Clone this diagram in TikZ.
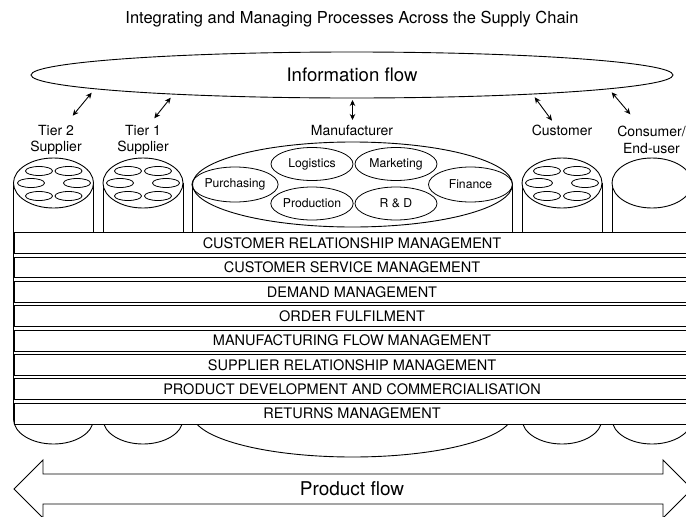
\documentclass[tikz,border=0pt]{standalone}
\usepackage{fontspec}
\setmainfont{TeX Gyre Heros}
\usetikzlibrary{shapes.geometric,arrows.meta}

\tikzset{
    face/.style={ellipse, draw, line width=0.9pt, fill=white, inner sep=0pt},
    cell/.style={ellipse, draw, line width=0.8pt, minimum width=27pt, minimum height=9pt, inner sep=0pt},
    dept/.style={ellipse, draw, line width=0.8pt, minimum width=82pt, minimum height=33pt, inner sep=0pt, font=\fontsize{12.2}{14}\selectfont},
    process/.style={draw, line width=0.9pt, fill=white, minimum width=676pt, minimum height=20.8pt, inner sep=0pt, font=\fontsize{14.5}{16}\selectfont},
    partner/.style={align=center, font=\fontsize{14}{16.5}\selectfont},
    infolink/.style={{Stealth[length=6pt,width=5.5pt]}-{Stealth[length=6pt,width=5.5pt]}, line width=0.9pt}
}

\begin{document}
\begin{tikzpicture}[x=1pt, y=-1pt]
        \useasboundingbox (0,0) rectangle (686,517);
        \clip (0,0) rectangle (686,517);

        \node[font=\fontsize{16.5}{19}\selectfont] (title) at (352,19) {Integrating and Managing Processes Across the Supply Chain};

        \node[face, minimum width=642pt, minimum height=46pt, font=\fontsize{18.6}{22}\selectfont] (info) at (352,75) {Information flow};

        \node[partner] (tiertwo) at (56,140) {Tier 2\\Supplier};
        \node[partner] (tierone) at (143,140) {Tier 1\\Supplier};
        \node[partner, anchor=base] (manuf) at (352,135) {Manufacturer};
        \node[partner, anchor=base] (cust) at (562,135) {Customer};
        \node[partner] (enduser) at (651.5,140) {Consumer/\\End-user};

        \coordinate (i2) at (91.7,92.7);
        \coordinate (t2) at (72.7,115.7);
        \coordinate (i1) at (170.7,97.7);
        \coordinate (t1) at (154.3,118.3);
        \coordinate (im) at (352.5,100);
        \coordinate (tm) at (352.5,120);
        \coordinate (ic) at (534.7,97.3);
        \coordinate (tc) at (552,120.7);
        \coordinate (ie) at (611.7,92.3);
        \coordinate (te) at (630.3,114.3);
        \draw[infolink] (i2) -- (t2);
        \draw[infolink] (i1) -- (t1);
        \draw[infolink] (im) -- (tm);
        \draw[infolink] (ic) -- (tc);
        \draw[infolink] (ie) -- (te);

        % cylinder walls and bottoms
        \draw[line width=0.9pt] (13.5,183) -- (13.5,419);
        \draw[line width=0.9pt] (93.5,183) -- (93.5,419);
        \draw[line width=0.9pt] (103,183) -- (103,419);
        \draw[line width=0.9pt] (183,183) -- (183,419);
        \draw[line width=0.9pt] (192.5,184.5) -- (192.5,414);
        \draw[line width=0.9pt] (512.5,184.5) -- (512.5,414);
        \draw[line width=0.9pt] (522,183) -- (522,419);
        \draw[line width=0.9pt] (602,183) -- (602,419);
        \draw[line width=0.9pt] (612,183) -- (612,419);
        \draw[line width=0.9pt] (692,183) -- (692,419);
        \draw[line width=0.9pt] (53.5,419) ellipse [x radius=40pt, y radius=25pt];
        \draw[line width=0.9pt] (143,419) ellipse [x radius=40pt, y radius=25pt];
        \draw[line width=0.9pt] (352.5,414) ellipse [x radius=160pt, y radius=43pt];
        \draw[line width=0.9pt] (562,419) ellipse [x radius=40pt, y radius=25pt];
        \draw[line width=0.9pt] (652,419) ellipse [x radius=40pt, y radius=25pt];

        \node[face, minimum width=80pt, minimum height=50pt] (toptwo) at (53.5,183) {};
        \node[face, minimum width=80pt, minimum height=50pt] (topone) at (143,183) {};
        \node[face, minimum width=320pt, minimum height=85pt] (topmanuf) at (352.5,184.5) {};
        \node[face, minimum width=80pt, minimum height=50pt] (topcust) at (562,183) {};
        \node[face, minimum width=80pt, minimum height=50pt] (topend) at (652,183) {};

        \node[cell] (a1) at (39,171) {};
        \node[cell] (a2) at (68.5,171) {};
        \node[cell] (a3) at (31,183) {};
        \node[cell] (a4) at (77,183) {};
        \node[cell] (a5) at (39,196) {};
        \node[cell] (a6) at (68.5,196) {};

        \node[cell] (b1) at (128,171) {};
        \node[cell] (b2) at (158,171) {};
        \node[cell] (b3) at (120,183) {};
        \node[cell] (b4) at (166,183) {};
        \node[cell] (b5) at (128,196) {};
        \node[cell] (b6) at (158,196) {};

        \node[cell] (c1) at (547,171) {};
        \node[cell] (c2) at (577,171) {};
        \node[cell] (c3) at (539,183) {};
        \node[cell] (c4) at (585,183) {};
        \node[cell] (c5) at (547,196) {};
        \node[cell] (c6) at (577,196) {};

        \node[dept, minimum height=35pt] (purch) at (235,184.5) {Purchasing};
        \node[dept] (logist) at (312,164) {Logistics};
        \node[dept] (prod) at (312,203.5) {Production};
        \node[dept] (market) at (396,164) {Marketing};
        \node[dept] (rnd) at (396,203.5) {R \& D};
        \node[dept, minimum width=84pt, minimum height=35pt] (finance) at (470.5,184.5) {Finance};

        % business processes
        \fill[white] (14,232.7) rectangle (690,424.1);
        \node[process] (crm) at (352,243.1) {CUSTOMER RELATIONSHIP MANAGEMENT};
        \node[process] (csm) at (352,267.5) {CUSTOMER SERVICE MANAGEMENT};
        \node[process] (dm) at (352,291.8) {DEMAND MANAGEMENT};
        \node[process] (of) at (352,316.2) {ORDER FULFILMENT};
        \node[process] (mfm) at (352,340.6) {MANUFACTURING FLOW MANAGEMENT};
        \node[process] (srm) at (352,365.0) {SUPPLIER RELATIONSHIP MANAGEMENT};
        \node[process] (pdc) at (352,389.3) {PRODUCT DEVELOPMENT AND COMMERCIALISATION};
        \node[process] (rm) at (352,413.7) {RETURNS MANAGEMENT};

        \draw[line width=0.9pt, line join=miter] (14,489) -- (43,460) -- (43,474) -- (663,474) -- (663,460) -- (692,489)
            -- (663,518) -- (663,504) -- (43,504) -- (43,518) -- cycle;
        \node[font=\fontsize{19}{22}\selectfont] (prodflow) at (352,489) {Product flow};
    \end{tikzpicture}
\end{document}
